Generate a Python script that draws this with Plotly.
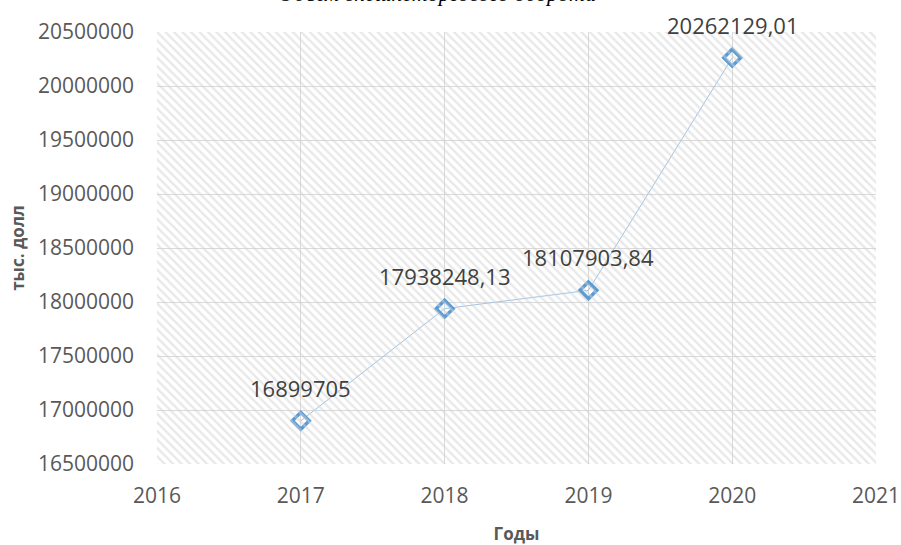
import plotly.graph_objects as go

years = [2017, 2018, 2019, 2020]
values = [16899705, 17938248.13, 18107903.84, 20262129.01]
labels = ["16899705", "17938248,13", "18107903,84", "20262129,01"]
x_ticks = [2016, 2017, 2018, 2019, 2020, 2021]
y_ticks = [16500000, 17000000, 17500000, 18000000, 18500000, 19000000, 19500000, 20000000, 20500000]
title_text = "Объем внешнеторгового оборота"
x_title = "Годы"
y_title = "тыс. долл"

FONT = "Open Sans, Liberation Sans, sans-serif"
GREY = "#595959"

fig = go.Figure()

# hatched background of the plot area (decoration on a hidden unit axis)
fig.add_trace(go.Bar(
    x=[0.5], y=[1], width=[1], xaxis="x2", yaxis="y2",
    marker=dict(color="rgba(0,0,0,0)", line=dict(width=0),
                pattern=dict(shape="\\", fgcolor="#d2d2d2", bgcolor="rgba(0,0,0,0)",
                             size=6, solidity=0.4, fillmode="overlay")),
    hoverinfo="skip", showlegend=False,
))

fig.add_trace(go.Scatter(
    x=years, y=values, mode="lines+markers",
    line=dict(color="#9DC3E6", width=1),
    marker=dict(symbol="diamond-open", size=13, color="#5B9BD5", line=dict(width=3.5, color="#5B9BD5")),
    cliponaxis=False, showlegend=False,
))

annots = [dict(x=x, y=y, text=t, showarrow=False, yshift=33, xanchor="center", yanchor="middle",
               font=dict(family=FONT, size=22, color="#404040"))
          for x, y, t in zip(years, values, labels)]
annots.append(dict(text="<i>" + title_text + "</i>", xref="paper", yref="paper",
                   x=0.39, y=1, yshift=24, xanchor="center", yanchor="bottom",
                   showarrow=False, font=dict(family="Liberation Serif, serif", size=22, color="#000000")))

fig.update_layout(
    width=901, height=545,
    margin=dict(l=157, r=25, t=32, b=81),
    paper_bgcolor="white", plot_bgcolor="white",
    font=dict(family=FONT, color=GREY),
    barmode="overlay",
    xaxis=dict(range=[2016, 2021], tickvals=x_ticks, ticktext=[str(v) for v in x_ticks],
               showgrid=True, gridcolor="#d9d9d9", gridwidth=1, zeroline=False, automargin=False,
               showline=False, ticks="", ticklabelstandoff=17,
               tickfont=dict(size=21, color=GREY),
               title=dict(text="<b>" + x_title + "</b>", font=dict(size=17, color=GREY), standoff=20)),
    yaxis=dict(range=[16500000, 20500000], tickvals=y_ticks, ticktext=[str(v) for v in y_ticks],
               showgrid=True, gridcolor="#d9d9d9", gridwidth=1, zeroline=False, automargin=False,
               showline=False, ticks="", ticklabelstandoff=22,
               tickfont=dict(size=21, color=GREY),
               title=dict(text="<b>" + y_title + "</b>", font=dict(size=17, color=GREY), standoff=8)),
    xaxis2=dict(range=[0, 1], overlaying="x", visible=False, fixedrange=True),
    yaxis2=dict(range=[0, 1], overlaying="y", visible=False, fixedrange=True),
    annotations=annots,
)

fig.write_html("out.html", config={"displayModeBar": False},
               post_script="document.body.style.margin='0px';")
